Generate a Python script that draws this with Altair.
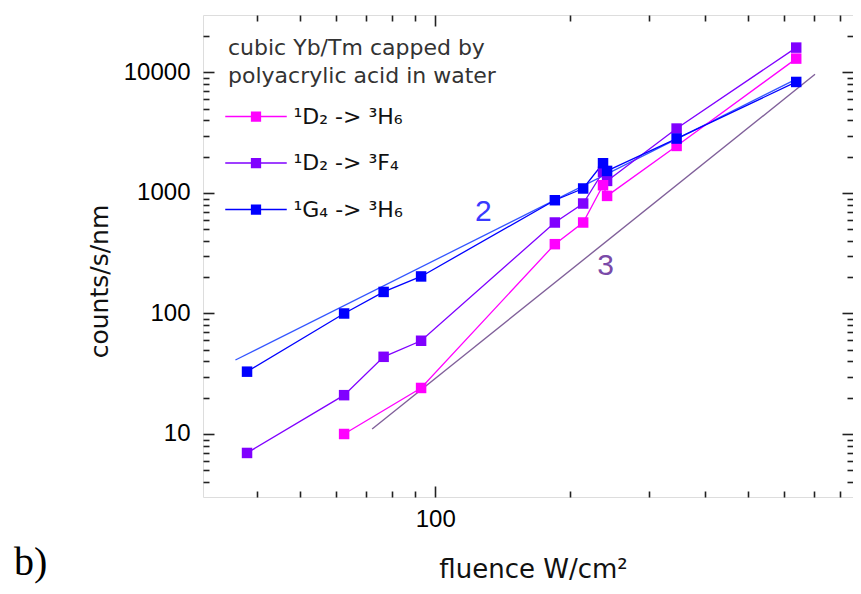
import altair as alt
import pandas as pd

# ---------------- data ----------------
fluence = [38.0, 62.6, 76.7, 93.0, 185, 214, 237, 242, 346, 640]
d2_h6 = [None, 10.0, None, 24.1, 376, 569, 1160, 946, 2458, 13040]
d2_f4 = [6.96, 21.0, 43.7, 59.4, 569, 818, 1500, 1260, 3426, 16090]
g4_h6 = [32.9, 100, 151, 203, 871, 1090, 1766, 1525, 2830, 8345]

series_names = ["¹D₂ -> ³H₆", "¹D₂ -> ³F₄", "¹G₄ -> ³H₆"]
series_colors = ["#ff00ff", "#8000ff", "#0000ff"]
draw_order = [1, 0, 2]  # purple first, then pink, blue on top

fit2_x = [35.8, 640]
fit2_y = [41.1, 8800]
fit3_x = [72.3, 705]
fit3_y = [11.0, 9660]

slope_text = ["2", "3"]
slope_x = [128, 240]
slope_y = [693, 248]
slope_colors = ["#3a3aff", "#7a4aa8"]

x_major = [100]
x_minor = [40, 50, 60, 70, 80, 90, 200, 300, 400, 500, 600, 700, 800]
y_major = [10, 100, 1000, 10000]
y_minor = [4, 5, 6, 7, 8, 9, 20, 30, 40, 50, 60, 70, 80, 90,
           200, 300, 400, 500, 600, 700, 800, 900,
           2000, 3000, 4000, 5000, 6000, 7000, 8000, 9000, 20000]

x_domain = [30.3, 857]
y_domain = [3, 30000]

# ---------------- tables ----------------
rows = []
all_series = [d2_h6, d2_f4, g4_h6]
for z, si in enumerate(draw_order):
    for i, (fx, v) in enumerate(zip(fluence, all_series[si])):
        if v is not None:
            rows.append({"fluence": fx, "counts": v, "series": series_names[si], "idx": i, "z": z})
df = pd.DataFrame(rows)

fit2 = pd.DataFrame({"fluence": fit2_x, "counts": fit2_y})
fit3 = pd.DataFrame({"fluence": fit3_x, "counts": fit3_y})
labels = pd.DataFrame({"fluence": slope_x, "counts": slope_y, "t": slope_text})

xs = alt.Scale(type="log", domain=x_domain, nice=False)
ys = alt.Scale(type="log", domain=y_domain, nice=False)
cs = alt.Scale(domain=series_names, range=series_colors)

LABEL_FONT = "Liberation Sans"
TITLE_FONT = "DejaVu Sans"

x_main_axis = alt.Axis(orient="bottom", values=x_major, format="d", ticks=False, tickSize=0,
                       domain=False, grid=False, labelFont=LABEL_FONT, labelFontSize=24,
                       labelColor="#000", labelPadding=10, title="fluence W/cm²",
                       titleFont=TITLE_FONT, titleFontSize=26, titleFontWeight="normal",
                       titleColor="#111", titleX=330, titleY=80, titleAlign="center",
                       titleBaseline="alphabetic")
y_main_axis = alt.Axis(orient="left", values=y_major, format="d", ticks=False, tickSize=0,
                       domain=False, grid=False, labelFont=LABEL_FONT, labelFontSize=24,
                       labelColor="#000", labelPadding=13, title="counts/s/nm",
                       titleFont=TITLE_FONT, titleFontSize=25, titleFontWeight="normal",
                       titleColor="#111", titleX=-104, titleY=266, titleAngle=270,
                       titleAlign="center", titleBaseline="middle")

LEGEND_PATH = "M-1.5,-0.035H1.5V0.035H-1.5Z M-0.25,-0.25H0.25V0.25H-0.25Z"
legend = alt.Legend(
    title=["cubic Yb/Tm capped by", "polyacrylic acid in water"],
    orient="none", legendX=25, legendY=23, padding=0,
    titleFont=TITLE_FONT, titleFontSize=22, titleFontWeight="normal", titleColor="#333",
    titleLineHeight=28, titlePadding=8, titleLimit=500,
    labelFont=TITLE_FONT, labelFontSize=22, labelColor="#111", labelOffset=17, labelLimit=400,
    symbolType=LEGEND_PATH, symbolSize=1681, symbolOffset=7.5, symbolStrokeWidth=0,
    rowPadding=14.5, symbolOpacity=1,
)

fit3_layer = alt.Chart(fit3).mark_line(color="#80609a", strokeWidth=1.4).encode(
    x=alt.X("fluence:Q", scale=xs, axis=None), y=alt.Y("counts:Q", scale=ys, axis=None))
fit2_layer = alt.Chart(fit2).mark_line(color="#3355ff", strokeWidth=1.3).encode(
    x=alt.X("fluence:Q", scale=xs, axis=None), y=alt.Y("counts:Q", scale=ys, axis=None))

line_layers = []
for si in draw_order:
    sub = df[df["series"] == series_names[si]]
    line_layers.append(
        alt.Chart(sub).mark_line(strokeWidth=1.3, color=series_colors[si]).encode(
            x=alt.X("fluence:Q", scale=xs, axis=None),
            y=alt.Y("counts:Q", scale=ys, axis=None),
            order="idx:Q",
        ))

point_layer = alt.Chart(df).mark_point(shape="square", filled=True, size=110, opacity=1).encode(
    x=alt.X("fluence:Q", scale=xs, axis=x_main_axis),
    y=alt.Y("counts:Q", scale=ys, axis=y_main_axis),
    color=alt.Color("series:N", scale=cs, legend=legend),
    order="z:Q",
)

text_layers = []
for i in range(len(slope_text)):
    text_layers.append(
        alt.Chart(labels.iloc[[i]]).mark_text(font=LABEL_FONT, fontSize=30, color=slope_colors[i]).encode(
            x=alt.X("fluence:Q", scale=xs, axis=None),
            y=alt.Y("counts:Q", scale=ys, axis=None),
            text="t:N"))


def tick_layer(channel, orient, values, size):
    ax = alt.Axis(orient=orient, values=values, tickSize=size, offset=-size, labels=False,
                  domain=False, grid=False, ticks=True, title=None, tickColor="#222", tickWidth=1.6)
    if channel == "x":
        enc = dict(x=alt.X("fluence:Q", scale=xs, axis=ax), y=alt.Y("counts:Q", scale=ys, axis=None))
    else:
        enc = dict(x=alt.X("fluence:Q", scale=xs, axis=None), y=alt.Y("counts:Q", scale=ys, axis=ax))
    return alt.Chart(df).mark_point(opacity=0).encode(**enc)


tick_layers = [
    tick_layer("x", "bottom", x_major, 11), tick_layer("x", "bottom", x_minor, 6),
    tick_layer("x", "top", x_major, 11), tick_layer("x", "top", x_minor, 6),
    tick_layer("y", "left", y_major, 11), tick_layer("y", "left", y_minor, 6),
    tick_layer("y", "right", y_major, 11), tick_layer("y", "right", y_minor, 6),
]

chart = alt.layer(
    fit3_layer, fit2_layer, *line_layers, point_layer, *text_layers, *tick_layers
).resolve_axis(x="independent", y="independent").properties(
    width=650, height=482,
    autosize=alt.AutoSizeParams(type="none"),
    padding={"left": 195, "top": 7, "right": 0, "bottom": 88},
    title=alt.TitleParams("b)", orient="bottom", anchor="start", frame="group",
                          font="Liberation Serif", fontSize=40, fontWeight="normal",
                          color="black", baseline="alphabetic", dx=-189, dy=-7, offset=0),
).configure_view(stroke="#222", strokeWidth=2).configure(background="white")

chart.save("out.html", embed_options={"renderer": "svg", "actions": False})
